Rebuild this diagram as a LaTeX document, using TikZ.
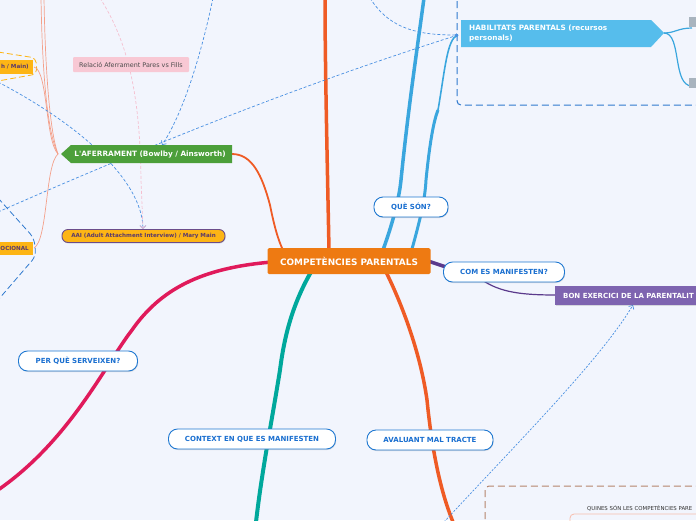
\documentclass[tikz,border=0pt]{standalone}
\usepackage{fontspec}
\newfontfamily\vf{DejaVu Sans}
\usetikzlibrary{arrows.meta,shadows,calc}
\definecolor{bgc}{HTML}{F2F5FD}
\definecolor{corange}{HTML}{EE7A12}
\definecolor{lorange}{HTML}{EF5B25}
\definecolor{lblue}{HTML}{3AA6DE}
\definecolor{habc}{HTML}{56BDEC}
\definecolor{dblue}{HTML}{4A90E2}
\definecolor{bndblue}{HTML}{2F79CE}
\definecolor{cgreen}{HTML}{4C9F3A}
\definecolor{cyellow}{HTML}{FDB515}
\definecolor{cpurpb}{HTML}{6B4C8A}
\definecolor{cpurpt}{HTML}{5A3A6A}
\definecolor{cpink}{HTML}{F8C8D4}
\definecolor{cpinkl}{HTML}{F5BFCF}
\definecolor{csalmon}{HTML}{F4A08A}
\definecolor{cmag}{HTML}{E01A5B}
\definecolor{cteal}{HTML}{00A89C}
\definecolor{cpurple}{HTML}{5B3A8C}
\definecolor{cbon}{HTML}{7E64B0}
\definecolor{pillb}{HTML}{1F78D1}
\definecolor{pillt}{HTML}{1A6FD0}
\definecolor{cbrown}{HTML}{B5846C}
\definecolor{cgray}{HTML}{A9B4BE}
\tikzset{
  pill/.style={rounded corners=9pt, draw=pillb, line width=0.9pt, fill=white, text=pillt,
    font=\vf\bfseries\fontsize{7}{8}\selectfont, inner sep=0pt,
    drop shadow={opacity=0.25, shadow xshift=0.6pt, shadow yshift=-1pt}},
  dashlink/.style={draw=dblue, line width=0.7pt, dash pattern=on 3pt off 2pt},
  bnd/.style={line width=1pt, dash pattern=on 7pt off 4pt},
}
\begin{document}
\begin{tikzpicture}[x=1pt,y=-1pt]
\useasboundingbox (0,0) rectangle (696,520);
\fill[bgc] (0,0) rectangle (696,520);
\clip (0,0) rectangle (696,520);

% coordinates
\coordinate (habL) at (458,35);
\coordinate (habT) at (664,33);
\coordinate (affL) at (58,154);
\coordinate (affR) at (232,154);
\coordinate (aaiT) at (143,229);
\coordinate (bonB) at (633,305);

% boundaries
\draw[bnd, draw=bndblue, rounded corners=4pt] (457,-10) -- (457,105) -- (710,105);
\draw[bnd, draw=cbrown, rounded corners=4pt] (485,530) -- (485,486) -- (710,486);
\draw[line width=0.8pt, dash pattern=on 6pt off 3pt, draw=cyellow, rounded corners=5pt] (-2,52) -- (36,58) -- (37,74) -- (-2,81);
\draw[line width=0.8pt, dash pattern=on 6pt off 3pt, draw=bndblue, rounded corners=6pt] (-2,198) -- (34,238) -- (36,256) -- (-2,300);

% main branches
\draw[lorange, line width=3.5pt] (329,250) .. controls (327,150) and (325,60) .. (325,-2);
\draw[lblue, line width=3.5pt] (383,250) .. controls (392,225) and (399,200) .. (401,180) .. controls (408,110) and (417,50) .. (424,-2);
\draw[lblue, line width=3pt] (412,249) .. controls (420,220) and (425,200) .. (426,180) .. controls (430,140) and (434,120) .. (438,110);
\draw[lblue, line width=1.6pt] (438,110) .. controls (445,70) and (447,38) .. (habL);
\draw[cmag, line width=3.5pt] (272,262) .. controls (200,268) and (160,290) .. (132,330) .. controls (105,365) and (70,440) .. (-2,490);
\draw[cteal, line width=4pt] (311,272) .. controls (295,300) and (285,330) .. (280,370) .. controls (272,420) and (262,470) .. (256,522);
\draw[lorange, line width=3.5pt] (386,272) .. controls (400,300) and (420,350) .. (427,400) .. controls (432,450) and (440,490) .. (453,522);
\draw[lorange, line width=1.8pt] (affR) .. controls (252,154) and (262,175) .. (270,205) .. controls (274,225) and (278,240) .. (283,250);
\draw[cpurple, line width=3.5pt] (428,261) -- (446,267);
\draw[cpurple, line width=1.2pt] (482,280) .. controls (500,292) and (520,295) .. (556,295);

% habilitats children
\draw[lblue, line width=1.2pt] (habT) .. controls (675,33) and (678,28) .. (692,28);
\draw[lblue, line width=1.2pt] (habT) .. controls (682,33) and (672,86) .. (692,86);
\fill[cgray] (689,17) rectangle (700,27);
\fill[cgray] (689,78) rectangle (700,88);

% salmon lines from aferrament
\draw[csalmon, line width=0.7pt] (affL) .. controls (46,130) and (42,60) .. (41,-2);
\draw[csalmon, line width=0.7pt] (affL) .. controls (49,130) and (45,60) .. (44,-2);
\draw[csalmon, line width=0.7pt] (affL) .. controls (45,140) and (48,70) .. (34,67);
\draw[csalmon, line width=0.7pt] (affL) .. controls (45,165) and (48,240) .. (34,248);

% dashed links
\draw[dashlink, -{Circle[length=3pt]}] (370,-2) .. controls (390,30) and (420,35) .. (habL);
\draw[dashlink, -{Circle[length=3pt]}] (-2,212) .. controls (150,145) and (300,85) .. (habL);
\draw[dashlink, -{Straight Barb[length=3pt]}] (213,-2) .. controls (200,60) and (182,115) .. (162,145);
\draw[dashlink, -{Straight Barb[length=3pt]}] (-2,82) .. controls (80,125) and (142,180) .. (aaiT);
\draw[draw=cpinkl, line width=0.7pt, dash pattern=on 3pt off 2pt, -{Straight Barb[length=3pt]}] (100,-2) .. controls (130,45) and (140,100) .. (141,180) -- (aaiT);
\draw[dashlink, dash pattern=on 2pt off 1.5pt, -{Straight Barb[length=3pt]}] (444,522) .. controls (520,440) and (600,360) .. (bonB);

% nodes
\node[fill=corange, rounded corners=1.5pt, minimum width=163, minimum height=26, text=white,
  font=\vf\bfseries\fontsize{8.9}{10}\selectfont, inner sep=0pt] (central) at (349,261) {COMPETÈNCIES PARENTALS};
\node[pill, minimum width=74, minimum height=20] (que) at (411,207) {QUÈ SÓN?};
\node[pill, minimum width=121, minimum height=20] (com) at (504,272) {COM ES MANIFESTEN?};
\node[pill, minimum width=119, minimum height=20] (per) at (78,361) {PER QUÈ SERVEIXEN?};
\node[pill, minimum width=167, minimum height=20] (ctx) at (252,439) {CONTEXT EN QUE ES MANIFESTEN};
\node[pill, minimum width=126, minimum height=20] (aval) at (430,440) {AVALUANT MAL TRACTE};

% BON EXERCICI
\fill[cbon, drop shadow={opacity=0.25, shadow xshift=0.6pt, shadow yshift=-1pt}] (555,286) rectangle (710,305);
\node[anchor=west, text=white, font=\vf\bfseries\fontsize{7}{8}\selectfont, inner sep=0pt] (bon) at (563,295.5) {BON EXERCICI DE LA PARENTALIT};

% HABILITATS
\fill[habc] (461,20) -- (651,20) -- (664,33) -- (651,47) -- (461,47) -- cycle;
\node[anchor=west, text=white, align=left, font=\vf\bfseries\fontsize{7.3}{9.5}\selectfont, inner sep=0pt] (hab) at (469,33.5) {HABILITATS PARENTALS (recursos\\personals)};

% L'AFERRAMENT
\fill[cgreen] (61,154) -- (71,145) -- (232,145) -- (232,163) -- (71,163) -- cycle;
\node[text=white, font=\vf\bfseries\fontsize{7.3}{8}\selectfont, inner sep=0pt] (aff) at (150,154.5) {L'AFERRAMENT (Bowlby / Ainsworth)};

% AAI
\node[rounded corners=6pt, draw=cpurpb, line width=0.9pt, fill=cyellow, text=cpurpt, minimum width=163, minimum height=13,
  font=\vf\bfseries\fontsize{5.6}{6}\selectfont, inner sep=0pt,
  drop shadow={opacity=0.25, shadow xshift=0.6pt, shadow yshift=-1pt}] (aai) at (143.5,236) {AAI (Adult Attachment Interview) / Mary Main};

% Relacio
\node[fill=cpink, rounded corners=1pt, minimum width=116, minimum height=15, text=black!70,
  font=\vf\fontsize{6.4}{7}\selectfont, inner sep=0pt] (rel) at (131,64.5) {Relació Aferrament Pares vs Fills};

% yellow cut nodes
\fill[cyellow] (-5,60) rectangle (33,74);
\node[anchor=east, text=cpurpt, font=\vf\bfseries\fontsize{5.6}{6}\selectfont, inner sep=0pt] (ymain) at (29,67) {h / Main)};
\fill[cyellow] (-5,242) rectangle (33,255);
\node[anchor=east, text=cpurpt, font=\vf\bfseries\fontsize{5.6}{6}\selectfont, inner sep=0pt] (yemo) at (29,248.5) {OCIONAL};

% Quines son
\node[anchor=west, text=black!80, font=\vf\fontsize{5.4}{6}\selectfont, inner sep=0pt] (quines) at (587,508) {QUINES SÓN LES COMPETÈNCIES PARE};
\draw[draw=csalmon!70, line width=0.8pt, rounded corners=4pt] (570,525) -- (570,514) -- (710,514);
\end{tikzpicture}
\end{document}
